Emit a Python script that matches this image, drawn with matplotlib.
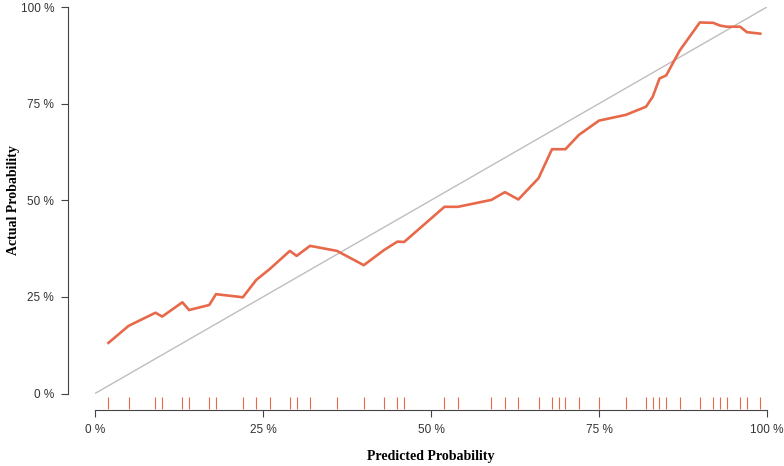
import numpy as np
import matplotlib.pyplot as plt
from matplotlib.ticker import FuncFormatter

plt.rcParams['font.family'] = 'Liberation Sans'

# calibration curve (percent)
pred = [2, 5, 9, 10, 13, 14, 17, 18, 22, 24, 26, 29, 30, 32, 36, 40, 43, 45, 46,
        52, 54, 59, 61, 63, 66, 68, 70, 72, 75, 79, 82, 83, 84, 85, 87, 90, 92,
        93, 94, 96, 97, 99]
actual = [13.1, 17.5, 20.9, 19.9, 23.6, 21.6, 22.9, 25.7, 24.9, 29.4, 32.2, 36.9,
          35.6, 38.2, 36.9, 33.2, 37.1, 39.3, 39.2,
          48.3, 48.3, 50.1, 52.1, 50.2, 55.7, 63.2, 63.2, 66.9, 70.6, 72.1, 74.2,
          76.8, 81.5, 82.3, 88.7, 96.0, 95.9, 95.2, 94.9, 94.9, 93.5, 93.1]

# rug of predicted values (percent)
rug = [2, 5, 9, 10, 13, 14, 17, 18, 22, 24, 26, 29, 30, 32, 36, 40, 43, 45, 46,
       52, 54, 59, 61, 63, 66, 68, 69, 70, 72, 75, 79, 82, 83, 84, 85, 87, 90,
       92, 93, 94, 96, 97, 99]

ticks = [0, 25, 50, 75, 100]

fig = plt.figure(figsize=(7.84, 4.66), dpi=100)
ax = fig.add_axes([95 / 784, 72.5 / 466, 672 / 784, 386.5 / 466])

ax.plot([0, 100], [0, 100], color='#BEBEBE', lw=1.0)
ax.plot(pred, actual, color='#E8694A', lw=1.9)
ax.vlines(rug, -4.0, -0.9, color='#E8694A', lw=0.8, clip_on=False)

ax.set_xlim(0, 100)
ax.set_ylim(0, 100)
ax.set_xticks(ticks)
ax.set_yticks(ticks)
pct = FuncFormatter(lambda v, p: f'{v:.0f} %')
ax.xaxis.set_major_formatter(pct)
ax.yaxis.set_major_formatter(pct)

for s in ['top', 'right']:
    ax.spines[s].set_visible(False)
ax.spines['left'].set_position(('outward', 19.4))
ax.spines['bottom'].set_position(('outward', 12.2))
ax.spines['left'].set_bounds(0, 100)
ax.spines['bottom'].set_bounds(0, 100)
for s in ['left', 'bottom']:
    ax.spines[s].set_color('#444444')
    ax.spines[s].set_linewidth(0.8)

ax.tick_params(axis='both', length=5, width=0.8, color='#444444',
               labelsize=8.5, labelcolor='#333333', pad=5)

ax.set_xlabel('Predicted Probability', family='Liberation Serif',
              fontweight='bold', fontsize=10)
ax.set_ylabel('Actual Probability', family='Liberation Serif',
              fontweight='bold', fontsize=10)
ax.xaxis.set_label_coords(0.5, -0.146)
ax.yaxis.set_label_coords(-0.112, 0.5)

fig.savefig('out.png', dpi=100)
